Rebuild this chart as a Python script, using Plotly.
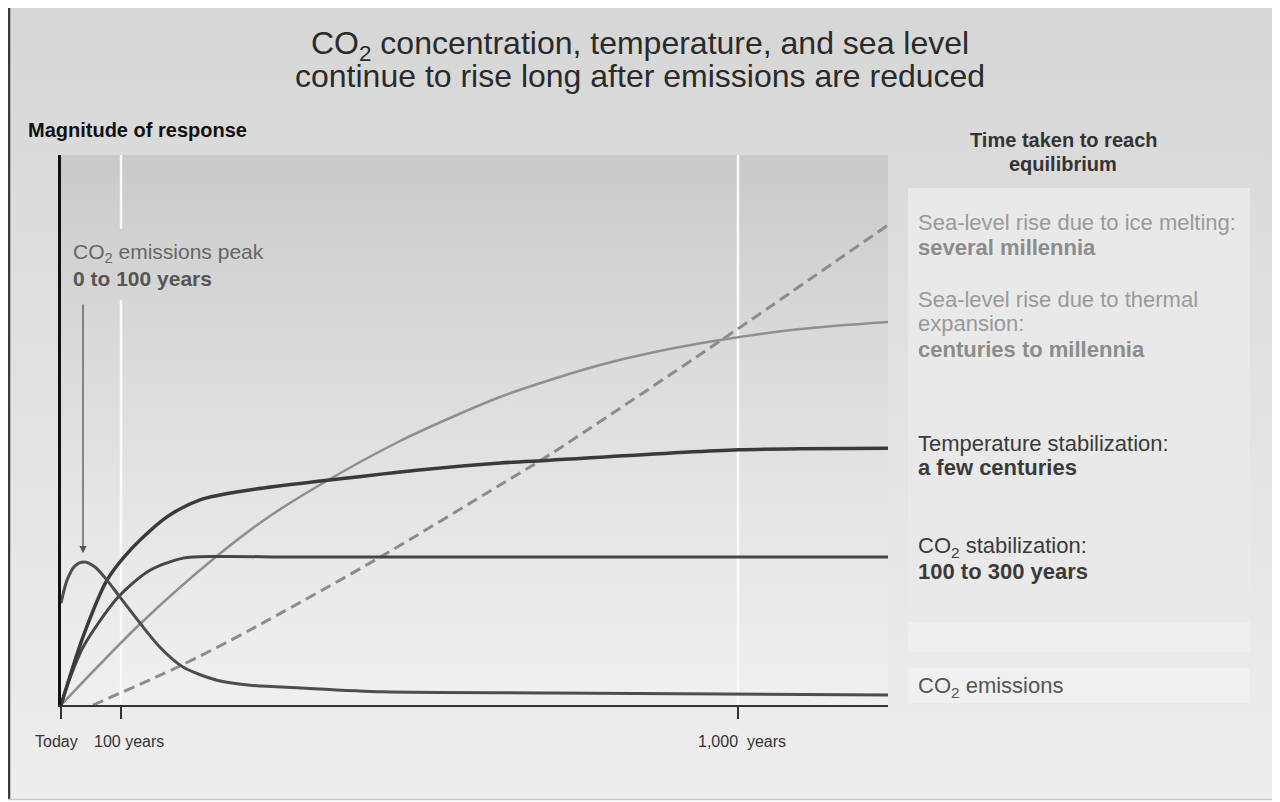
import plotly.graph_objects as go

# ---------------- data ----------------
# x: relative time (axis units, 0 = today); y: magnitude of response (0-100)
TIME_TICKS = [0, 7.26, 81.86]
TIME_LABELS = ["Today", "100 years", "1,000  years"]
TIME_LABEL_SHIFT = [-5, 8, 4]

EMIS_X = [0, 0.73, 1.69, 2.78, 4.11, 5.56, 7.13, 9.55, 11.97, 14.75, 18.86, 22.85, 28.9, 38.9, 59.1, 100]
EMIS_Y = [18.5, 22.7, 25.3, 26.0, 25.1, 22.7, 19.6, 14.9, 10.5, 6.9, 4.5, 3.6, 3.1, 2.4, 2.2, 1.8]

CO2_X = [0, 1.09, 2.66, 6.89, 10.76, 14.75, 18.86, 28.9, 100]
CO2_Y = [0, 4.9, 10.5, 19.6, 24.5, 26.7, 27.0, 26.9, 26.9]

TEMP_X = [0, 1.33, 2.66, 5.56, 8.71, 12.82, 16.81, 22.85, 32.5, 43.0, 53.1, 59.1, 81.9, 100]
TEMP_Y = [0, 6.4, 12.4, 22.7, 28.7, 34.2, 37.3, 39.1, 40.9, 42.7, 44.0, 44.5, 46.4, 46.7]

THERM_X = [0, 9.55, 18.86, 25.27, 32.53, 41.0, 47.04, 53.08, 59.13, 65.18, 71.22, 79.69, 89.36, 100]
THERM_Y = [0, 14.73, 27.09, 34.36, 41.09, 48.0, 52.18, 56.0, 59.09, 61.82, 64.0, 66.36, 68.36, 69.64]

ICE_X = [3.87, 14.39, 22.85, 38.21, 53.08, 59.13, 79.69, 100]
ICE_Y = [0, 7.09, 13.64, 26.55, 40.0, 45.55, 66.18, 87.27]

PEAK_X = 2.66
PEAK_TIP_Y = 27.6
PEAK_TAIL_Y = 73.1

FONT = "Liberation Sans, Arial, Helvetica, sans-serif"

# page offset (browser body margin) compensation: the layout is built in screen pixels
OFF = 8
SW, SH = 1280, 802
W, H = SW - OFF, SH - OFF

fig = go.Figure()


def rect(x0, y0, x1, y1, color=None, grad=None):
    kw = dict(x=[x0, x1, x1, x0, x0], y=[y0, y0, y1, y1, y0], mode="lines",
              fill="toself", line=dict(width=0), hoverinfo="skip",
              showlegend=False, xaxis="x", yaxis="y")
    if grad is not None:
        kw["fillgradient"] = dict(type="vertical", colorscale=grad, start=y0, stop=y1)
    else:
        kw["fillcolor"] = color
    fig.add_trace(go.Scatter(**kw))


# outer frame background
rect(OFF, 5, 1276, 800, grad=[[0, "#d6d6d6"], [0.5, "#e2e2e2"], [1, "#eeeeee"]])
# plot area gradient
rect(61, 155, 888, 705, grad=[[0, "#c9c9c9"], [0.15, "#d1d1d1"], [0.4, "#dcdcdc"],
                              [0.7, "#e7e7e7"], [1, "#f0f0f0"]])
# right panel
rect(908, 188, 1250, 660, color="#e9e9e9")
rect(908, 622, 1250, 652, color="#eeeeee")
rect(908, 668, 1250, 703, color="#f0f0f0")

# frame border lines
for xs, ys, c, w in [([OFF + 1, OFF + 1], [5, 800], "#3a3a3a", 2.5),
                     ([1275.5, 1275.5], [5, 800], "#3a3a3a", 2.5),
                     ([OFF, 1276], [5.5, 5.5], "#b5b5b5", 1.5),
                     ([OFF, 1276], [799.5, 799.5], "#c8c8c8", 1.5)]:
    fig.add_trace(go.Scatter(x=xs, y=ys, mode="lines", line=dict(color=c, width=w),
                             hoverinfo="skip", showlegend=False, xaxis="x", yaxis="y"))


# ---------------- data curves ----------------
def curve(xs, ys, color, width, dash="solid", name=""):
    fig.add_trace(go.Scatter(x=xs, y=ys, mode="lines", name=name,
                             line=dict(color=color, width=width, dash=dash, shape="spline", smoothing=0.8),
                             xaxis="x2", yaxis="y2", showlegend=False, cliponaxis=False))


curve(ICE_X, ICE_Y, "#8c8c8c", 3, dash="11px,6px", name="Sea-level rise (ice melting)")
curve(THERM_X, THERM_Y, "#8f8f8f", 2.5, name="Sea-level rise (thermal expansion)")
curve(CO2_X, CO2_Y, "#454545", 3, name="CO2 concentration")
curve(TEMP_X, TEMP_Y, "#3a3a3a", 3.5, name="Temperature")
curve(EMIS_X, EMIS_Y, "#4d4d4d", 3, name="CO2 emissions")

# white time lines (behind curves), the 100-year one interrupted by the label
shapes = [
    dict(type="line", xref="x2", yref="y2", x0=TIME_TICKS[1], x1=TIME_TICKS[1], y0=0, y1=73.6,
         line=dict(color="#fafafa", width=2.5), layer="below"),
    dict(type="line", xref="x2", yref="y2", x0=TIME_TICKS[1], x1=TIME_TICKS[1], y0=86.6, y1=100,
         line=dict(color="#fafafa", width=2.5), layer="below"),
    dict(type="line", xref="x2", yref="y2", x0=TIME_TICKS[2], x1=TIME_TICKS[2], y0=0, y1=100,
         line=dict(color="#fafafa", width=2.5), layer="below"),
]


# ---------------- annotations ----------------
def txt(x, y, s, size, color, bold=False, xanchor="left"):
    return dict(xref="x", yref="y", x=x, y=y, text=("<b>" + s + "</b>" if bold else s),
                showarrow=False, xanchor=xanchor, yanchor="middle", borderpad=0,
                font=dict(size=size, color=color, family=FONT))


ann = [
    txt(640, 45, "CO<sub>2</sub> concentration, temperature, and sea level", 32, "#2a2a2a", xanchor="center"),
    txt(640, 76, "continue to rise long after emissions are reduced", 32, "#2a2a2a", xanchor="center"),
    txt(27, 130, "Magnitude of response", 20, "#111111", bold=True),
    txt(1063, 140, "Time taken to reach", 20, "#333333", bold=True, xanchor="center"),
    txt(1063, 164, "equilibrium", 20, "#333333", bold=True, xanchor="center"),
    txt(72, 253, "CO<sub>2</sub> emissions peak", 21, "#666666"),
    txt(72, 278, "0 to 100 years", 21, "#555555", bold=True),
    txt(917, 222, "Sea-level rise due to ice melting:", 22, "#9a9a9a"),
    txt(917, 247, "several millennia", 22, "#8c8c8c", bold=True),
    txt(917, 299, "Sea-level rise due to thermal", 22, "#9a9a9a"),
    txt(917, 323, "expansion:", 22, "#9a9a9a"),
    txt(917, 349, "centuries to millennia", 22, "#8c8c8c", bold=True),
    txt(917, 443, "Temperature stabilization:", 22, "#3a3a3a"),
    txt(917, 467, "a few centuries", 22, "#3a3a3a", bold=True),
    txt(917, 547, "CO<sub>2</sub> stabilization:", 22, "#3a3a3a"),
    txt(917, 571, "100 to 300 years", 22, "#3a3a3a", bold=True),
    txt(917, 687, "CO<sub>2</sub> emissions", 22, "#555555"),
    dict(xref="x2", yref="y2", axref="x2", ayref="y2", x=PEAK_X, y=PEAK_TIP_Y,
         ax=PEAK_X, ay=PEAK_TAIL_Y, text="", showarrow=True, arrowhead=2,
         arrowsize=1.1, arrowwidth=1.3, arrowcolor="#555555"),
]
# time-axis labels
for tv, tl, sh in zip(TIME_TICKS, TIME_LABELS, TIME_LABEL_SHIFT):
    ann.append(dict(xref="x2", yref="paper", x=tv, y=(SH - 741) / H, xshift=sh, text=tl,
                    showarrow=False, xanchor="center", yanchor="middle", borderpad=0,
                    font=dict(size=16, color="#333333", family=FONT)))

x_dom = [(61 - OFF) / W, (888 - OFF) / W]
y_dom = [(SH - 705) / H, (SH - 155) / H]

fig.update_layout(
    template="none",
    width=W, height=H,
    margin=dict(l=0, r=0, t=0, b=0, pad=0),
    paper_bgcolor="#ffffff",
    plot_bgcolor="rgba(0,0,0,0)",
    showlegend=False,
    xaxis=dict(domain=[0, 1], range=[OFF, SW], visible=False, fixedrange=True, automargin=False),
    yaxis=dict(domain=[0, 1], range=[SH, OFF], visible=False, fixedrange=True, automargin=False),
    xaxis2=dict(domain=x_dom, range=[0, 100], anchor="y2", showgrid=False, zeroline=False,
                showline=True, linecolor="#333333", linewidth=2,
                ticks="outside", ticklen=12, tickwidth=2, tickcolor="#333333",
                tickvals=TIME_TICKS, showticklabels=False, fixedrange=True, automargin=False),
    yaxis2=dict(domain=y_dom, range=[0, 100], anchor="x2", showgrid=False, zeroline=False,
                showline=True, linecolor="#111111", linewidth=2.5,
                showticklabels=False, ticks="", fixedrange=True, automargin=False),
    shapes=shapes,
    annotations=ann,
    font=dict(family=FONT),
)

fig.write_html("out.html")
